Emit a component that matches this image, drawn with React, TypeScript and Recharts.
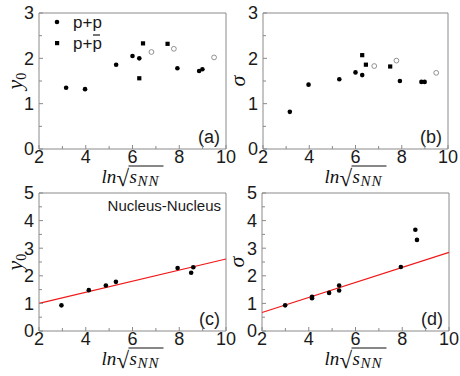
import React from "react";
import { ScatterChart, Scatter, XAxis, YAxis, ReferenceArea, ReferenceLine } from "recharts";

// p+p (filled circles)
const ppLnS = [3.16, 3.97, 5.3, 6.0, 6.29, 7.92, 8.85, 8.99];
const ppY0 = [1.35, 1.32, 1.86, 2.05, 2.0, 1.78, 1.72, 1.76];
const ppSigma = [0.82, 1.42, 1.54, 1.69, 1.63, 1.5, 1.48, 1.48];
// p+pbar (squares)
const ppbarLnS = [6.29, 6.45, 7.5];
const ppbarY0 = [1.56, 2.33, 2.32];
const ppbarSigma = [2.07, 1.86, 1.82];
// open circles
const openLnS = [6.81, 7.77, 9.49];
const openY0 = [2.14, 2.21, 2.02];
const openSigma = [1.83, 1.95, 1.68];
// nucleus-nucleus
const aaLnSY0 = [2.96, 4.13, 4.86, 5.29, 7.93, 8.51, 8.6];
const aaY0 = [0.93, 1.48, 1.65, 1.78, 2.28, 2.11, 2.31];
const aaLnSSigma = [2.99, 4.14, 4.14, 4.87, 5.3, 5.3, 7.94, 8.56, 8.63];
const aaSigma = [0.93, 1.24, 1.19, 1.38, 1.65, 1.47, 2.32, 3.67, 3.3];
// red fit lines
const fitX = [2, 10];
const fitY0 = [1.0, 2.61];
const fitSigma = [0.67, 2.85];

const xTicks = [2, 3, 4, 5, 6, 7, 8, 9, 10];
const yTicksTop = [0, 0.5, 1, 1.5, 2, 2.5, 3];
const yTicksBottom = [0, 0.5, 1, 1.5, 2, 2.5, 3, 3.5, 4, 4.5, 5];

const zip = (xs: number[], ys: number[]) => xs.map((x, i) => ({ x, y: ys[i] }));

const AXIS = "#8a8a8a";
const SANS = "'Liberation Sans', Arial, sans-serif";
const SERIF = "'Liberation Serif', 'DejaVu Serif', serif";

const dot = (p: any) => <circle cx={p.cx} cy={p.cy} r={2.3} fill="#000" />;
const square = (p: any) => <rect x={p.cx - 2.1} y={p.cy - 2.1} width={4.2} height={4.2} fill="#000" />;
const ring = (p: any) => <circle cx={p.cx} cy={p.cy} r={2.4} fill="#fff" stroke="#777" strokeWidth={0.8} />;

const XTick = ({ x, y, payload }: any) => {
  const major = payload.value % 2 === 0;
  return (
    <g>
      <line x1={x} x2={x} y1={y} y2={y - (major ? 4 : 3)} stroke={AXIS} />
      {major && (
        <text x={x} y={y + 14} textAnchor="middle" fontSize={18} fontFamily={SANS} fill="#1a1a1a">
          {payload.value}
        </text>
      )}
    </g>
  );
};

const YTick = ({ x, y, payload }: any) => {
  const major = Number.isInteger(payload.value);
  return (
    <g>
      <line x1={x} x2={x + (major ? 4 : 3)} y1={y} y2={y} stroke={AXIS} />
      {major && (
        <text x={x - 5} y={y} dy="0.35em" textAnchor="end" fontSize={18} fontFamily={SANS} fill="#1a1a1a">
          {payload.value}
        </text>
      )}
    </g>
  );
};

const XTitle = ({ viewBox }: any) => {
  const cx = viewBox.x + viewBox.width / 2;
  const by = viewBox.y + 34;
  return (
    <g fontFamily={SERIF} fill="#111">
      <text x={cx - 31} y={by} fontSize={19} fontStyle="italic">ln</text>
      <text x={cx - 16} y={by + 3} fontSize={23}>√</text>
      <line x1={cx - 4} x2={cx + 31} y1={by - 17} y2={by - 17} stroke="#111" strokeWidth={1} />
      <text x={cx - 3} y={by} fontSize={19} fontStyle="italic">s</text>
      <text x={cx + 5} y={by + 3} fontSize={15} fontStyle="italic" letterSpacing={1}>NN</text>
    </g>
  );
};

const yTitle = (sym: string, shift: number) => ({ viewBox }: any) => {
  const cx = viewBox.x + viewBox.width - shift;
  const cy = viewBox.y + viewBox.height / 2;
  return (
    <text
      x={cx}
      y={cy}
      dy="0.3em"
      textAnchor="middle"
      transform={`rotate(-90 ${cx} ${cy})`}
      fontFamily={SERIF}
      fontStyle="italic"
      fontSize={22}
      fill="#111"
    >
      {sym === "y0" ? (
        <>
          <tspan>y</tspan>
          <tspan fontSize={14} fontStyle="normal" dy={4}>0</tspan>
        </>
      ) : (
        sym
      )}
    </text>
  );
};

const panelTag = (tag: string, legend: boolean, note: boolean) => ({ viewBox }: any) => {
  const right = viewBox.x + viewBox.width;
  const bottom = viewBox.y + viewBox.height;
  const lx = viewBox.x;
  const ty = viewBox.y;
  return (
    <g fontFamily={SANS} fill="#1a1a1a">
      <text x={right - 6} y={bottom - 6} textAnchor="end" fontSize={18}>{tag}</text>
      {note && (
        <text x={right - 5} y={ty + 18} textAnchor="end" fontSize={15}>Nucleus-Nucleus</text>
      )}
      {legend && (
        <g>
          <circle cx={lx + 18} cy={ty + 9} r={2.3} fill="#000" />
          <text x={lx + 34} y={ty + 15} fontSize={17}>p+p</text>
          <rect x={lx + 16} y={ty + 28} width={4.2} height={4.2} fill="#000" />
          <text x={lx + 34} y={ty + 36} fontSize={17}>p+p</text>
          <line x1={lx + 54} x2={lx + 61} y1={ty + 22} y2={ty + 22} stroke="#1a1a1a" strokeWidth={1.2} />
        </g>
      )}
    </g>
  );
};

type PanelProps = {
  left: number;
  top: number;
  width: number;
  height: number;
  margin: { top: number; right: number; bottom: number; left: number };
  yWidth: number;
  yMax: number;
  yTicks: number[];
  ySym: string;
  yShift: number;
  tag: string;
  legend?: boolean;
  note?: boolean;
  children?: React.ReactNode;
};

function Panel(p: PanelProps) {
  return (
    <div style={{ position: "absolute", left: p.left, top: p.top }}>
      <ScatterChart width={p.width} height={p.height} margin={p.margin}>
        <XAxis
          type="number"
          dataKey="x"
          domain={[2, 10]}
          ticks={xTicks}
          interval={0}
          allowDataOverflow
          axisLine={false}
          tickLine={false}
          tickSize={0}
          tickMargin={0}
          tick={<XTick />}
          height={36}
          label={<XTitle />}
        />
        <YAxis
          type="number"
          dataKey="y"
          domain={[0, p.yMax]}
          ticks={p.yTicks}
          interval={0}
          allowDataOverflow
          axisLine={false}
          tickLine={false}
          tickSize={0}
          tickMargin={0}
          tick={<YTick />}
          width={p.yWidth}
          label={yTitle(p.ySym, p.yShift)}
        />
        {p.children}
        <ReferenceArea
          x1={2}
          x2={10}
          y1={0}
          y2={p.yMax}
          fill="none"
          stroke={AXIS}
          strokeWidth={1}
          ifOverflow="visible"
          label={panelTag(p.tag, !!p.legend, !!p.note)}
        />
      </ScatterChart>
    </div>
  );
}

export default function App() {
  return (
    <div style={{ position: "absolute", left: 0, top: 0, width: 460, height: 376, background: "#fff" }}>
      <style>{`.recharts-wrapper svg { overflow: visible; }`}</style>
      <Panel
        left={0}
        top={0}
        width={230}
        height={196}
        margin={{ top: 13, right: 4, bottom: 11, left: 0 }}
        yWidth={39}
        yMax={3}
        yTicks={yTicksTop}
        ySym="y0"
        yShift={24}
        tag="(a)"
        legend
      >
        <Scatter data={zip(ppLnS, ppY0)} shape={dot} isAnimationActive={false} />
        <Scatter data={zip(ppbarLnS, ppbarY0)} shape={square} isAnimationActive={false} />
        <Scatter data={zip(openLnS, openY0)} shape={ring} isAnimationActive={false} />
      </Panel>
      <Panel
        left={230}
        top={0}
        width={230}
        height={196}
        margin={{ top: 13, right: 12, bottom: 11, left: 0 }}
        yWidth={33}
        yMax={3}
        yTicks={yTicksTop}
        ySym="σ"
        yShift={25}
        tag="(b)"
      >
        <Scatter data={zip(ppLnS, ppSigma)} shape={dot} isAnimationActive={false} />
        <Scatter data={zip(ppbarLnS, ppbarSigma)} shape={square} isAnimationActive={false} />
        <Scatter data={zip(openLnS, openSigma)} shape={ring} isAnimationActive={false} />
      </Panel>
      <Panel
        left={0}
        top={178}
        width={230}
        height={198}
        margin={{ top: 15, right: 4, bottom: 9, left: 0 }}
        yWidth={39}
        yMax={5}
        yTicks={yTicksBottom}
        ySym="y0"
        yShift={24}
        tag="(c)"
        note
      >
        <ReferenceLine
          segment={zip(fitX, fitY0)}
          stroke="#f01818"
          strokeWidth={1.2}
          ifOverflow="visible"
        />
        <Scatter data={zip(aaLnSY0, aaY0)} shape={dot} isAnimationActive={false} />
      </Panel>
      <Panel
        left={230}
        top={178}
        width={230}
        height={198}
        margin={{ top: 15, right: 11, bottom: 9, left: 0 }}
        yWidth={32}
        yMax={5}
        yTicks={yTicksBottom}
        ySym="σ"
        yShift={25}
        tag="(d)"
      >
        <ReferenceLine
          segment={zip(fitX, fitSigma)}
          stroke="#f01818"
          strokeWidth={1.2}
          ifOverflow="visible"
        />
        <Scatter data={zip(aaLnSSigma, aaSigma)} shape={dot} isAnimationActive={false} />
      </Panel>
    </div>
  );
}
